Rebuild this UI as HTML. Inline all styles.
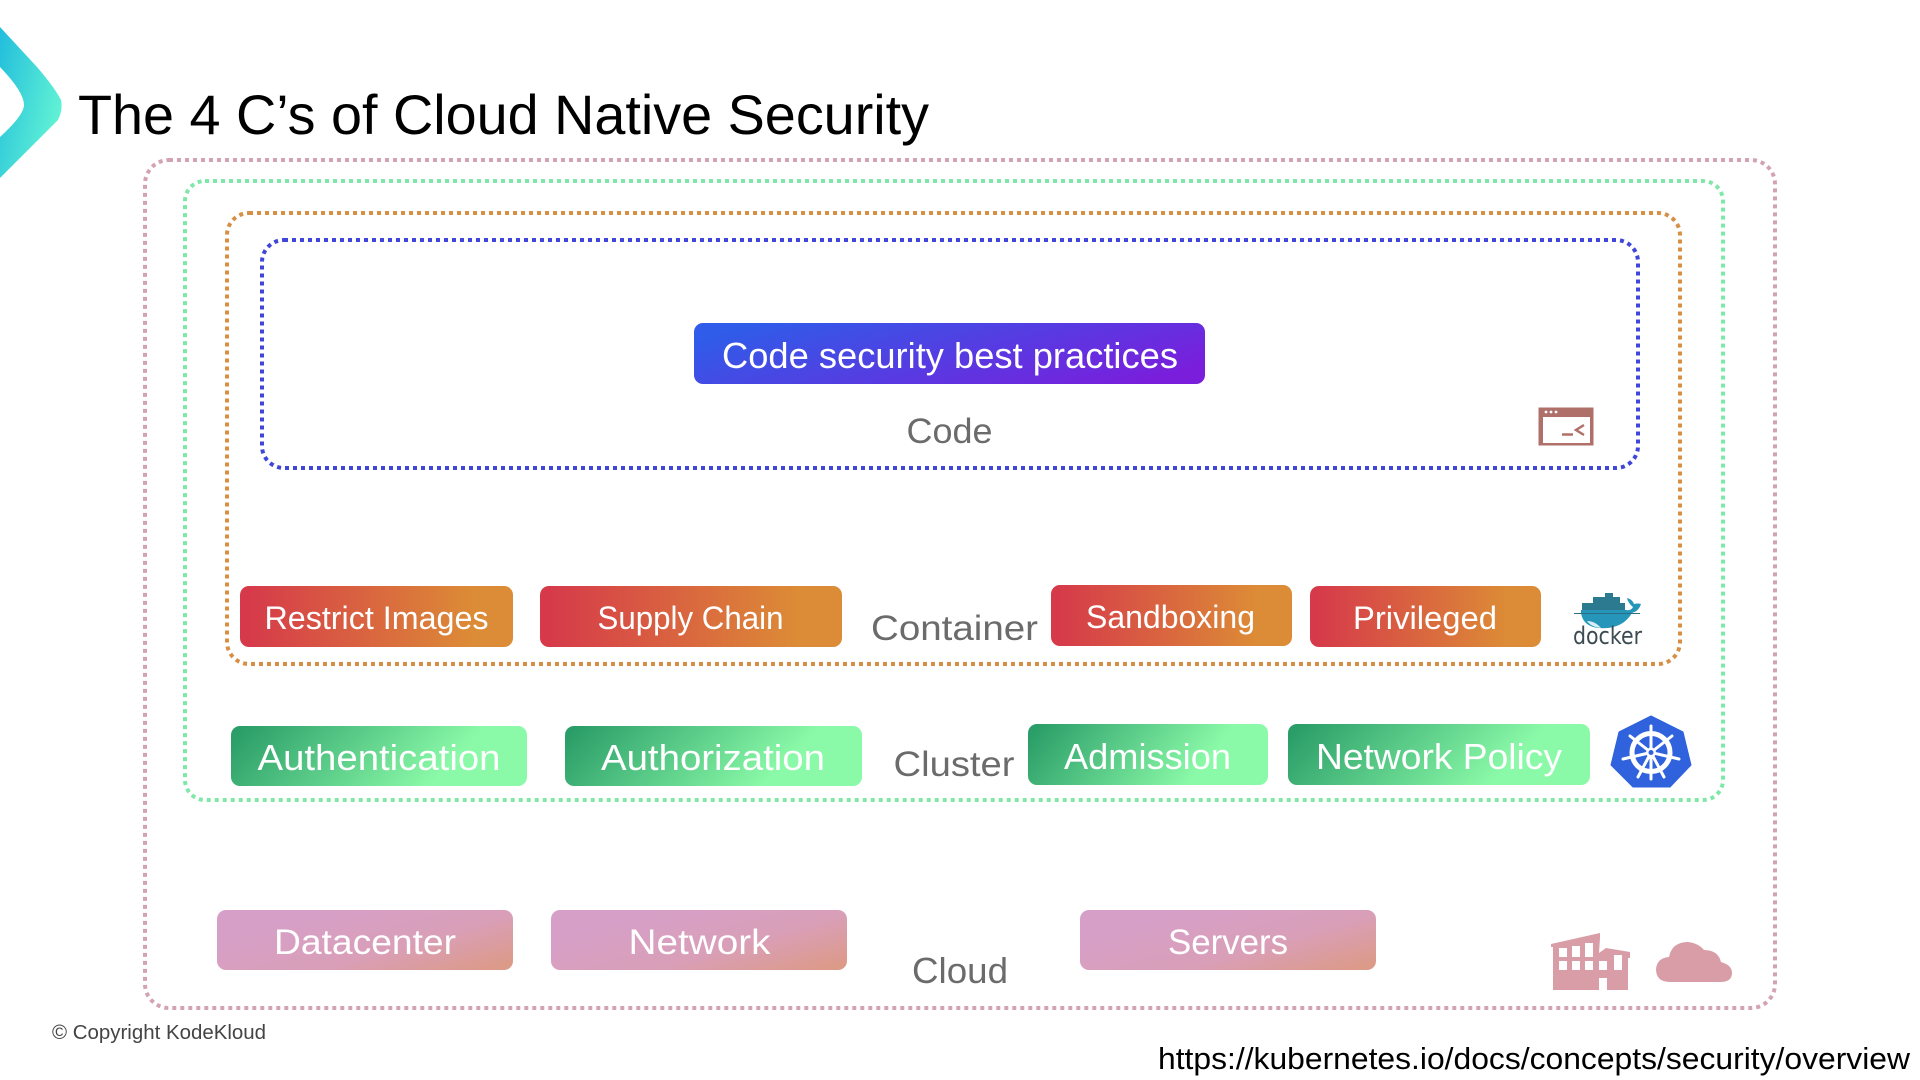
<!DOCTYPE html>
<html><head><meta charset="utf-8"><style>
html,body{margin:0;padding:0;background:#fff;width:1920px;height:1080px;overflow:hidden}
svg{display:block}
text{font-family:"Liberation Sans",sans-serif}
.w{fill:#fff}
.g{fill:#6b6b6b}
</style></head><body>
<svg width="1920" height="1080" viewBox="0 0 1920 1080" xmlns="http://www.w3.org/2000/svg">
<defs>
<linearGradient id="lg" x1="0" y1="0.1" x2="1" y2="0.65"><stop offset="0" stop-color="#24bfdc"/><stop offset="1" stop-color="#64f5d4"/></linearGradient>
<linearGradient id="red" x1="0" y1="0" x2="1" y2="0"><stop offset="0.03" stop-color="#d63a4a"/><stop offset="0.85" stop-color="#dc8b36"/></linearGradient>
<linearGradient id="grn" x1="0.02" y1="0.1" x2="0.82" y2="0.26"><stop offset="0" stop-color="#2a9d68"/><stop offset="1" stop-color="#8bfaa8"/></linearGradient>
<linearGradient id="pnk" x1="0" y1="0.2" x2="1" y2="0.9"><stop offset="0.12" stop-color="#d69fc8"/><stop offset="0.6" stop-color="#d99fb8"/><stop offset="1" stop-color="#dc9a88"/></linearGradient>
<linearGradient id="pur" x1="0" y1="0.3" x2="1" y2="0.7"><stop offset="0" stop-color="#2f5ce8"/><stop offset="1" stop-color="#7a1edc"/></linearGradient>
</defs>

<!-- logo -->
<path d="M0 27 L37 67 Q55 88 61 100 Q63 110 58 120 L0 178 L0 137 Q24 115 24 105 Q24 92 0 67 Z" fill="url(#lg)"/>

<text x="78" y="134" font-size="56" fill="#000" textLength="851" lengthAdjust="spacingAndGlyphs">The 4 C’s of Cloud Native Security</text>

<!-- boundaries -->
<g fill="none" stroke-width="4" stroke-dasharray="4 4">
<rect x="145" y="160" width="1630" height="848" rx="24" stroke="#d3a3b3"/>
<rect x="185" y="181" width="1538" height="619" rx="20" stroke="#7fe8a8"/>
<rect x="227" y="213" width="1453" height="451" rx="22" stroke="#d68f45"/>
<rect x="262" y="240" width="1376" height="228" rx="22" stroke="#3f46d8"/>
</g>

<!-- code -->
<rect x="694" y="323" width="511" height="61" rx="9" fill="url(#pur)"/>
<text x="722" y="368" font-size="36" class="w" textLength="456" lengthAdjust="spacingAndGlyphs">Code security best practices</text>
<text x="906.500" y="443" font-size="35" class="g" textLength="86" lengthAdjust="spacingAndGlyphs">Code</text>

<!-- terminal -->
<rect x="1544" y="412" width="49" height="33" fill="#fff"/>
<rect x="1538.500" y="407.500" width="55" height="38" fill="#b0706a"/>
<rect x="1543" y="417" width="47" height="26" fill="#fff"/>
<g fill="#fff"><circle cx="1546" cy="412" r="1.4"/><circle cx="1551" cy="412" r="1.4"/><circle cx="1556" cy="412" r="1.4"/></g>
<path d="M1562 434.500H1573M1584 425L1576 430L1584 435" fill="none" stroke="#b0706a" stroke-width="2.500"/>

<!-- container row -->
<rect x="240" y="586" width="273" height="61" rx="9" fill="url(#red)"/>
<text x="264.500" y="629" font-size="32" class="w" textLength="224" lengthAdjust="spacingAndGlyphs">Restrict Images</text>
<rect x="540" y="586" width="302" height="61" rx="9" fill="url(#red)"/>
<text x="597.500" y="629" font-size="32" class="w" textLength="186" lengthAdjust="spacingAndGlyphs">Supply Chain</text>
<text x="871" y="640" font-size="35" class="g" textLength="167" lengthAdjust="spacingAndGlyphs">Container</text>
<rect x="1051" y="585" width="241" height="61" rx="9" fill="url(#red)"/>
<text x="1086" y="628" font-size="32" class="w" textLength="169" lengthAdjust="spacingAndGlyphs">Sandboxing</text>
<rect x="1310" y="586" width="231" height="61" rx="9" fill="url(#red)"/>
<text x="1353" y="629" font-size="32" class="w" textLength="144" lengthAdjust="spacingAndGlyphs">Privileged</text>

<!-- docker -->
<g fill="#2c7a8f">
<rect x="1582" y="603" width="43" height="8"/>
<rect x="1593" y="597" width="27" height="7"/>
<rect x="1605" y="593" width="8" height="5"/>
</g>
<path d="M1581 610H1626Q1631 611 1633 607Q1628 603 1627 598Q1632 599 1634 604Q1638 603 1641 604Q1639 611 1632 613Q1622 630 1598 628Q1583 626 1581 613Z" fill="#2596ba"/>
<path d="M1574 613.500H1640" stroke="#2c6f85" stroke-width="1" fill="none"/>
<path d="M1587 621Q1595 621 1601 628Q1591 627 1587 621Z" fill="#d9eef3"/>
<text x="1573" y="644" font-size="24" fill="#3c4a52" style="font-family:'DejaVu Sans',sans-serif" textLength="69" lengthAdjust="spacingAndGlyphs">docker</text>

<!-- cluster row -->
<rect x="231" y="726" width="296" height="60" rx="9" fill="url(#grn)"/>
<text x="257.500" y="770" font-size="36" class="w" textLength="243" lengthAdjust="spacingAndGlyphs">Authentication</text>
<rect x="565" y="726" width="297" height="60" rx="9" fill="url(#grn)"/>
<text x="601" y="770" font-size="36" class="w" textLength="224" lengthAdjust="spacingAndGlyphs">Authorization</text>
<text x="893.500" y="776" font-size="35" class="g" textLength="121" lengthAdjust="spacingAndGlyphs">Cluster</text>
<rect x="1028" y="724" width="240" height="61" rx="9" fill="url(#grn)"/>
<text x="1064" y="769" font-size="36" class="w" textLength="167" lengthAdjust="spacingAndGlyphs">Admission</text>
<rect x="1288" y="724" width="302" height="61" rx="9" fill="url(#grn)"/>
<text x="1316" y="769" font-size="36" class="w" textLength="246" lengthAdjust="spacingAndGlyphs">Network Policy</text>

<!-- k8s -->
<path d="M1651 716L1683 732L1691 765L1670 787H1633L1611 765L1619 732Z" fill="#2f62dc" stroke="#2f62dc" stroke-width="1" stroke-linejoin="round"/>
<g fill="none" stroke="#fff" stroke-linecap="round">
<circle cx="1651" cy="752.500" r="19" stroke-width="5"/>
<g stroke-width="3">
<path d="M1651 726V779"/>
<path d="M1651 752.500L1630 736M1651 752.500L1672 736"/>
<path d="M1651 752.500L1623 759M1651 752.500L1679 759"/>
<path d="M1651 752.500L1638 777M1651 752.500L1664 777"/>
</g>
</g>
<circle cx="1651" cy="752.500" r="5" fill="#fff"/><circle cx="1651" cy="752.500" r="2.500" fill="#2f62dc"/>

<!-- cloud row -->
<rect x="217" y="910" width="296" height="60" rx="9" fill="url(#pnk)"/>
<text x="274" y="954" font-size="35" class="w" textLength="182" lengthAdjust="spacingAndGlyphs">Datacenter</text>
<rect x="551" y="910" width="296" height="60" rx="9" fill="url(#pnk)"/>
<text x="628.500" y="954" font-size="35" class="w" textLength="142" lengthAdjust="spacingAndGlyphs">Network</text>
<rect x="1080" y="910" width="296" height="60" rx="9" fill="url(#pnk)"/>
<text x="1168" y="954" font-size="35" class="w" textLength="120" lengthAdjust="spacingAndGlyphs">Servers</text>
<text x="912" y="983" font-size="36" class="g" textLength="96" lengthAdjust="spacingAndGlyphs">Cloud</text>

<!-- building -->
<path d="M1551 944L1600 933V938L1599 953L1606 948L1630 952V958L1628 958V990H1607V978H1599V990H1553V947L1551 947Z" fill="#d89da6"/>
<g fill="#fff">
<rect x="1559" y="948" width="8" height="9"/><rect x="1572" y="946" width="8" height="11"/><rect x="1585" y="943" width="8" height="14"/>
<rect x="1559" y="961" width="8" height="9"/><rect x="1572" y="961" width="8" height="9"/><rect x="1585" y="961" width="8" height="9"/>
<rect x="1599" y="961" width="8" height="9"/><rect x="1614" y="955" width="8" height="15"/>
</g>
<!-- cloud -->
<path d="M1670 982Q1656 982 1656 969Q1657 958 1669 957Q1672 942 1688 942Q1698 943 1704 950Q1718 950 1721 962Q1732 965 1732 973Q1732 982 1720 982Z" fill="#d89da6"/>

<text x="52" y="1039" font-size="20" fill="#444" textLength="214" lengthAdjust="spacingAndGlyphs">© Copyright KodeKloud</text>
<text x="1158" y="1069" font-size="31" fill="#000" textLength="752" lengthAdjust="spacingAndGlyphs">https://kubernetes.io/docs/concepts/security/overview</text>
</svg>
</body></html>
